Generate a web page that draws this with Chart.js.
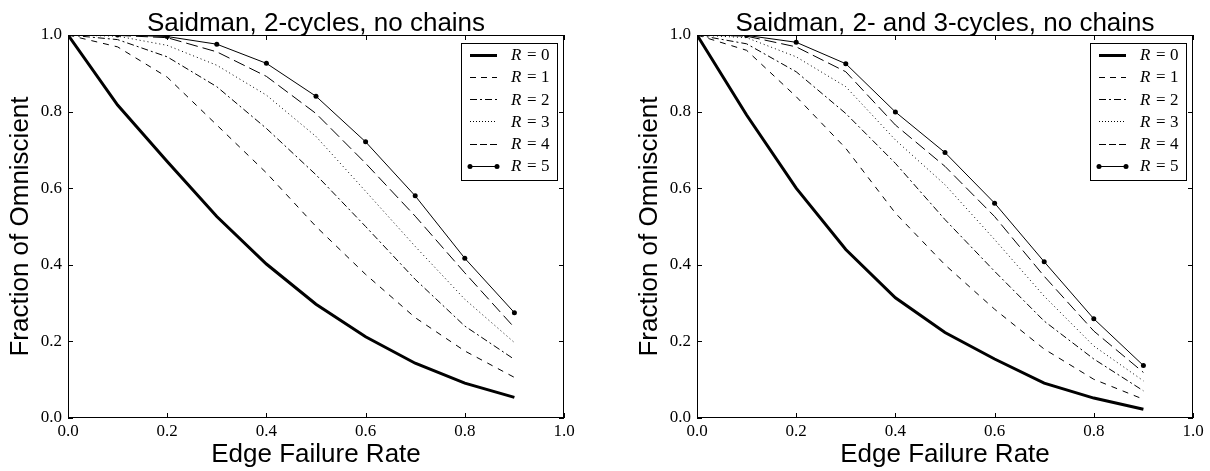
<!DOCTYPE html>
<html>
<head>
<meta charset="utf-8">
<script src="https://cdn.jsdelivr.net/npm/chart.js@4/dist/chart.umd.min.js"></script>
<style>
  body { margin: 0; background: #fff; }
  .wrap { display: flex; width: 1210px; height: 471px; }
  .cell { width: 605px; height: 471px; }
</style>
</head>
<body>
<div class="wrap">
  <div class="cell"><canvas id="leftChart" width="605" height="471"></canvas></div>
  <div class="cell"><canvas id="rightChart" width="605" height="471"></canvas></div>
</div>
<script>
// data
const failureRates = [0.0, 0.1, 0.2, 0.3, 0.4, 0.5, 0.6, 0.7, 0.8, 0.9];
const seriesNames = ['R = 0', 'R = 1', 'R = 2', 'R = 3', 'R = 4', 'R = 5'];
const axisTicks = [0.0, 0.2, 0.4, 0.6, 0.8, 1.0];

// Saidman, 2-cycles, no chains
const twoCyclesR0 = [1.0, 0.817, 0.670, 0.526, 0.402, 0.297, 0.212, 0.143, 0.091, 0.054];
const twoCyclesR1 = [1.0, 0.969, 0.890, 0.765, 0.640, 0.500, 0.375, 0.262, 0.175, 0.106];
const twoCyclesR2 = [1.0, 0.988, 0.943, 0.865, 0.756, 0.635, 0.500, 0.362, 0.240, 0.153];
const twoCyclesR3 = [1.0, 0.997, 0.973, 0.921, 0.843, 0.735, 0.592, 0.448, 0.310, 0.197];
const twoCyclesR4 = [1.0, 0.999, 0.993, 0.956, 0.892, 0.795, 0.665, 0.527, 0.379, 0.236];
const twoCyclesR5 = [1.0, 1.0, 0.996, 0.976, 0.926, 0.840, 0.721, 0.580, 0.417, 0.275];

// Saidman, 2- and 3-cycles, no chains
const threeCyclesR0 = [1.0, 0.791, 0.600, 0.440, 0.314, 0.223, 0.154, 0.091, 0.052, 0.023];
const threeCyclesR1 = [1.0, 0.960, 0.839, 0.704, 0.535, 0.400, 0.284, 0.180, 0.101, 0.049];
const threeCyclesR2 = [1.0, 0.977, 0.904, 0.795, 0.665, 0.518, 0.383, 0.253, 0.154, 0.071];
const threeCyclesR3 = [1.0, 0.993, 0.943, 0.865, 0.726, 0.609, 0.466, 0.318, 0.188, 0.097];
const threeCyclesR4 = [1.0, 0.997, 0.969, 0.904, 0.765, 0.657, 0.526, 0.370, 0.227, 0.119];
const threeCyclesR5 = [1.0, 0.999, 0.981, 0.925, 0.799, 0.693, 0.561, 0.408, 0.259, 0.137];

// line looks, one per R
const lineStyles = [
    { width: 3, dash: [], legendDash: [], points: 0 },
    { width: 1, dash: [6, 6], legendDash: [6, 5], points: 0 },
    { width: 1, dash: [7, 3, 2, 3], legendDash: [7, 3, 2, 3], points: 0 },
    { width: 1, dash: [1, 3], legendDash: [1, 2], points: 0 },
    { width: 1, dash: [12, 5], legendDash: [7, 3], points: 0 },
    { width: 1, dash: [], legendDash: [], points: 2.5 }
];

const sansFont = 'Liberation Sans, Arial, sans-serif';
const serifFont = 'Liberation Serif, Times New Roman, serif';

function makeDatasets(series) {
    return series.map(function (values, i) {
        const st = lineStyles[i];
        return {
            label: seriesNames[i],
            data: values.map(function (v, j) { return { x: failureRates[j], y: v }; }),
            borderColor: '#000',
            backgroundColor: '#000',
            borderWidth: st.width,
            borderDash: st.dash,
            pointRadius: st.points,
            pointBackgroundColor: '#000',
            pointBorderWidth: 0,
            tension: 0,
            clip: 0
        };
    });
}

// frame with inward ticks on all four sides
const framePlugin = {
    id: 'frame',
    afterDatasetsDraw(chart) {
        const ctx = chart.ctx;
        const a = chart.chartArea;
        const xs = chart.scales.x, ys = chart.scales.y;
        ctx.save();
        ctx.strokeStyle = '#000';
        ctx.lineWidth = 1;
        ctx.setLineDash([]);
        ctx.strokeRect(a.left + 0.5, a.top + 0.5, a.right - a.left - 1, a.bottom - a.top - 1);
        const tl = 5;
        ctx.beginPath();
        axisTicks.forEach(function (v) {
            const px = Math.round(xs.getPixelForValue(v)) + 0.5;
            ctx.moveTo(px, a.bottom); ctx.lineTo(px, a.bottom - tl);
            ctx.moveTo(px, a.top); ctx.lineTo(px, a.top + tl);
            const py = Math.round(ys.getPixelForValue(v)) + 0.5;
            ctx.moveTo(a.left, py); ctx.lineTo(a.left + tl, py);
            ctx.moveTo(a.right, py); ctx.lineTo(a.right - tl, py);
        });
        ctx.stroke();
        ctx.restore();
    }
};

// legend box in the upper right
const legendPlugin = {
    id: 'rLegend',
    afterDraw(chart) {
        const ctx = chart.ctx;
        const a = chart.chartArea;
        const w = 96, h = 137;
        const left = a.right - 7 - w, top = a.top + 8;
        ctx.save();
        ctx.fillStyle = '#fff';
        ctx.fillRect(left, top, w, h);
        ctx.strokeStyle = '#000';
        ctx.lineWidth = 1;
        ctx.strokeRect(left + 0.5, top + 0.5, w, h);
        chart.data.datasets.forEach(function (ds, i) {
            const st = lineStyles[i];
            const y = top + 11.5 + i * 22.3;
            const yl = Math.round(y) + 0.5;
            ctx.strokeStyle = '#000';
            ctx.lineWidth = ds.borderWidth;
            ctx.setLineDash(st.legendDash);
            ctx.beginPath();
            ctx.moveTo(left + 9, yl);
            ctx.lineTo(left + 36, yl);
            ctx.stroke();
            if (ds.pointRadius > 0) {
                ctx.fillStyle = '#000';
                [left + 9, left + 36].forEach(function (px) {
                    ctx.beginPath();
                    ctx.arc(px, yl, ds.pointRadius, 0, Math.PI * 2);
                    ctx.fill();
                });
            }
            ctx.fillStyle = '#000';
            ctx.textBaseline = 'middle';
            ctx.textAlign = 'left';
            const parts = ds.label.split(' = ');
            ctx.font = 'italic 17px ' + serifFont;
            ctx.fillText(parts[0], left + 50, y + 1);
            ctx.font = '17px ' + serifFont;
            ctx.fillText('=', left + 66, y + 1);
            ctx.fillText(parts[1], left + 80, y + 1);
        });
        ctx.restore();
    }
};

// title centred over the plot area
const topTitlePlugin = {
    id: 'topTitle',
    afterDraw(chart) {
        const ctx = chart.ctx;
        const a = chart.chartArea;
        ctx.save();
        ctx.fillStyle = '#000';
        ctx.font = '26px ' + sansFont;
        ctx.textAlign = 'center';
        ctx.textBaseline = 'alphabetic';
        ctx.fillText(chart.options.plugins.topTitle.text, (a.left + a.right) / 2, a.top - 4);
        ctx.restore();
    }
};

function makeChart(canvasId, titleText, series, padLeft, padRight) {
    const ctx = document.getElementById(canvasId).getContext('2d');
    return new Chart(ctx, {
        type: 'line',
        data: { datasets: makeDatasets(series) },
        options: {
            responsive: false,
            animation: false,
            events: [],
            layout: { padding: { left: padLeft, right: padRight, top: 35, bottom: 0 } },
            plugins: {
                legend: { display: false },
                tooltip: { enabled: false },
                topTitle: { text: titleText }
            },
            scales: {
                x: {
                    type: 'linear',
                    min: 0, max: 1,
                    afterBuildTicks: function (scale) { scale.ticks = axisTicks.map(function (v) { return { value: v }; }); },
                    afterFit: function (scale) { scale.height = 53; },
                    grid: { display: false, drawTicks: false },
                    border: { display: false },
                    ticks: {
                        padding: 3,
                        color: '#000',
                        font: { family: serifFont, size: 17 },
                        callback: function (v) { return Number(v).toFixed(1); }
                    },
                    title: {
                        display: true,
                        text: 'Edge Failure Rate',
                        color: '#000',
                        font: { family: sansFont, size: 26 },
                        padding: { top: 0, bottom: 1 }
                    }
                },
                y: {
                    type: 'linear',
                    min: 0, max: 1,
                    afterBuildTicks: function (scale) { scale.ticks = axisTicks.map(function (v) { return { value: v }; }); },
                    afterFit: function (scale) { scale.width = 68; },
                    grid: { display: false, drawTicks: false },
                    border: { display: false },
                    ticks: {
                        padding: 6,
                        color: '#000',
                        font: { family: serifFont, size: 17 },
                        callback: function (v) { return Number(v).toFixed(1); }
                    },
                    title: {
                        display: true,
                        text: 'Fraction of Omniscient',
                        color: '#000',
                        font: { family: sansFont, size: 26 },
                        padding: { top: 5, bottom: 0 }
                    }
                }
            }
        },
        plugins: [framePlugin, legendPlugin, topTitlePlugin]
    });
}

makeChart('leftChart', 'Saidman, 2-cycles, no chains',
    [twoCyclesR0, twoCyclesR1, twoCyclesR2, twoCyclesR3, twoCyclesR4, twoCyclesR5], 0, 41);
makeChart('rightChart', 'Saidman, 2- and 3-cycles, no chains',
    [threeCyclesR0, threeCyclesR1, threeCyclesR2, threeCyclesR3, threeCyclesR4, threeCyclesR5], 24, 17);
</script>
</body>
</html>
